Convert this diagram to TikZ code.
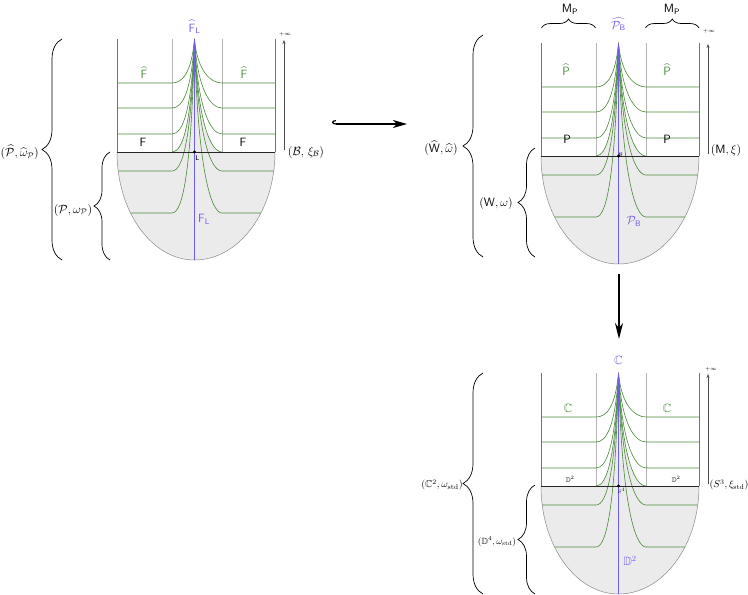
\documentclass[tikz,border=0pt]{standalone}
\usepackage{amsmath,amssymb}
\usetikzlibrary{arrows.meta,decorations.pathreplacing}
\definecolor{lblue}{HTML}{6F5CF2}
\definecolor{lgreen}{HTML}{4A8A38}
\definecolor{lfill}{HTML}{EBEBEB}
\definecolor{vgray}{HTML}{B4B4B4}
\definecolor{ugray}{HTML}{8A8A8A}
\tikzset{
  leaf/.style={lgreen, line width=0.6pt},
  bluel/.style={lblue, line width=0.8pt},
  bracel/.style={decorate, line width=0.7pt, decoration={brace, amplitude=#1}},
  lab/.style={inner sep=0pt, font=\large},
  glab/.style={lab, text=lgreen},
  blab/.style={lab, text=lblue},
  infarrow/.style={-{Stealth[length=4pt,width=3pt]}, line width=0.5pt, black!70},
}
% one leaf: horizontal part, then up to the apex on both sides
\newcommand{\leafcurve}[1]{%
  (172,-#1) .. controls (183,-#1) and (191.5,{-(#1-0.25*(#1-39))}) .. (194.5,-39)
  .. controls (197.5,{-(#1-0.25*(#1-39))}) and (211,-#1) .. (222,-#1)}
\newcommand{\leafdiagram}{%
  \fill[lfill] \leafcurve{152} -- (275,-152)
     arc[start angle=0,end angle=-90,x radius=80.5pt,y radius=108pt]
     arc[start angle=270,end angle=180,x radius=77.5pt,y radius=108pt] -- cycle;
  \draw[ugray, line width=0.5pt] (117,-152)
     arc[start angle=180,end angle=270,x radius=77.5pt,y radius=108pt]
     arc[start angle=270,end angle=360,x radius=80.5pt,y radius=108pt];
  \draw[vgray, line width=0.6pt] (172,-39) -- (172,-152) (222,-39) -- (222,-152);
  \foreach \yy/\xl/\xr in {83/117/275,108/117/275,134/117/275,171/118.2/273.7,213/130.5/260.9}{
    \draw[leaf] (\xl,-\yy) -- \leafcurve{\yy} -- (\xr,-\yy);
  }
  \draw[leaf] \leafcurve{152};
  \draw[black!85, line width=0.7pt] (117,-152) -- (275,-152);
  \draw[bluel] (117,-39) -- (117,-152) (275,-39) -- (275,-152) (194.5,-39) -- (194.5,-260);
  \fill (194.5,-152) circle (1.6pt);
  \draw[infarrow] (284,-150) -- (284,-40);
}
\begin{document}
\begin{tikzpicture}[x=1pt,y=1pt]
\useasboundingbox (0,0) rectangle (748,-595);
% the three diagrams
\leafdiagram
\begin{scope}[shift={(424,-4)}]\leafdiagram\end{scope}
\begin{scope}[shift={(424,-334)}]\leafdiagram\end{scope}

% ---------- diagram 1 labels ----------
\node[blab] (d1top) at (194.5,-27) {$\widehat{\mathsf{F}}_{\mathsf{L}}$};
\node[glab] (d1fh1) at (144,-73) {$\widehat{\mathsf{F}}$};
\node[glab] (d1fh2) at (244,-73) {$\widehat{\mathsf{F}}$};
\node[lab] (d1f1) at (143,-142) {$\mathsf{F}$};
\node[lab] (d1f2) at (243,-142) {$\mathsf{F}$};
\node[lab,font=\scriptsize] (d1l) at (197.5,-158.5) {$\mathsf{L}$};
\node[blab] (d1fl) at (204,-219) {$\mathsf{F}_{\mathsf{L}}$};
\node[lab,font=\tiny] (d1inf) at (285,-34) {$+\infty$};
\node[lab] (d1b) at (306,-152) {$(\mathcal{B},\,\xi_{\mathcal{B}})$};
\node[lab, anchor=east] (d1ph) at (39,-152) {$(\widehat{\mathcal{P}},\widehat{\omega}_{\mathcal{P}})$};
\node[lab] (d1p) at (73,-210) {$(\mathcal{P},\omega_{\mathcal{P}})$};
\coordinate (b1a) at (62,-260); \coordinate (b1b) at (62,-39);
\coordinate (b2a) at (110,-260); \coordinate (b2b) at (110,-152);
\draw[bracel=20pt] (b1a) -- (b1b);
\draw[bracel=16pt] (b2a) -- (b2b);

% ---------- diagram 2 labels ----------
\node[lab] (d2m1) at (570,-9) {$\mathsf{M}_{\mathsf{P}}$};
\node[lab] (d2m2) at (672,-9) {$\mathsf{M}_{\mathsf{P}}$};
\coordinate (m1a) at (541.5,-28); \coordinate (m1b) at (595.5,-28);
\coordinate (m2a) at (645.5,-28); \coordinate (m2b) at (699,-28);
\draw[bracel=9pt] (m1a) -- (m1b);
\draw[bracel=9pt] (m2a) -- (m2b);
\node[blab] (d2top) at (618.5,-24) {$\widehat{\mathcal{P}_{\mathsf{B}}}$};
\node[glab] (d2ph1) at (566,-70) {$\widehat{\mathsf{P}}$};
\node[glab] (d2ph2) at (667,-70) {$\widehat{\mathsf{P}}$};
\node[lab] (d2p1) at (567,-139) {$\mathsf{P}$};
\node[lab] (d2p2) at (667,-139) {$\mathsf{P}$};
\node[lab,font=\tiny] (d2b) at (620.5,-154.5) {$\mathcal{B}$};
\node[blab] (d2pb) at (634,-221) {$\mathcal{P}_{\mathsf{B}}$};
\node[lab,font=\tiny] (d2inf) at (709,-31) {$+\infty$};
\node[lab] (d2m) at (726,-150) {$(\mathsf{M},\xi)$};
\node[lab] (d2wh) at (441,-148) {$(\widehat{\mathsf{W}},\widehat{\omega})$};
\node[lab] (d2w) at (496,-203) {$(\mathsf{W},\omega)$};
\coordinate (b3a) at (483,-257); \coordinate (b3b) at (483,-35);
\coordinate (b4a) at (535,-257); \coordinate (b4b) at (535,-148);
\draw[bracel=20pt] (b3a) -- (b3b);
\draw[bracel=17pt] (b4a) -- (b4b);

% ---------- diagram 3 labels ----------
\node[blab] (d3top) at (618.5,-360) {$\mathbb{C}$};
\node[glab] (d3c1) at (568,-408) {$\mathbb{C}$};
\node[glab] (d3c2) at (667,-408) {$\mathbb{C}$};
\node[lab,font=\scriptsize] (d3d1) at (570,-479) {$\mathbb{D}^2$};
\node[lab,font=\scriptsize] (d3d2) at (676,-479) {$\mathbb{D}^2$};
\node[lab,font=\tiny] (d3s) at (621.5,-491) {$S^1$};
\node[blab] (d3dd) at (630,-561) {$\mathbb{D}^2$};
\node[lab,font=\tiny] (d3inf) at (711,-369) {$+\infty$};
\node[lab,font=\normalsize] (d3s3) at (729,-485) {$(S^3,\xi_{\mathrm{std}})$};
\node[lab,font=\normalsize] (d3c) at (442,-485) {$(\mathbb{C}^2,\omega_{\mathrm{std}})$};
\node[lab,font=\small] (d3d4) at (497,-542) {$(\mathbb{D}^4,\omega_{\mathrm{std}})$};
\coordinate (b5a) at (483,-594); \coordinate (b5b) at (483,-373);
\coordinate (b6a) at (535,-594); \coordinate (b6b) at (535,-485);
\draw[bracel=20pt] (b5a) -- (b5b);
\draw[bracel=17pt] (b6a) -- (b6b);

% ---------- maps between diagrams ----------
\coordinate (hs) at (332,-124);
\coordinate (he) at (407,-124);
\draw[{Hooks[right,length=4pt,width=8pt]}-{Stealth[length=14pt,width=8pt,inset=4pt]}, line width=1.2pt] (hs) -- (he);
\coordinate (ds) at (619,-274);
\coordinate (de) at (619,-339);
\draw[-{Stealth[length=16pt,width=8pt,inset=5pt]}, line width=1.8pt] (ds) -- (de);
\end{tikzpicture}
\end{document}
